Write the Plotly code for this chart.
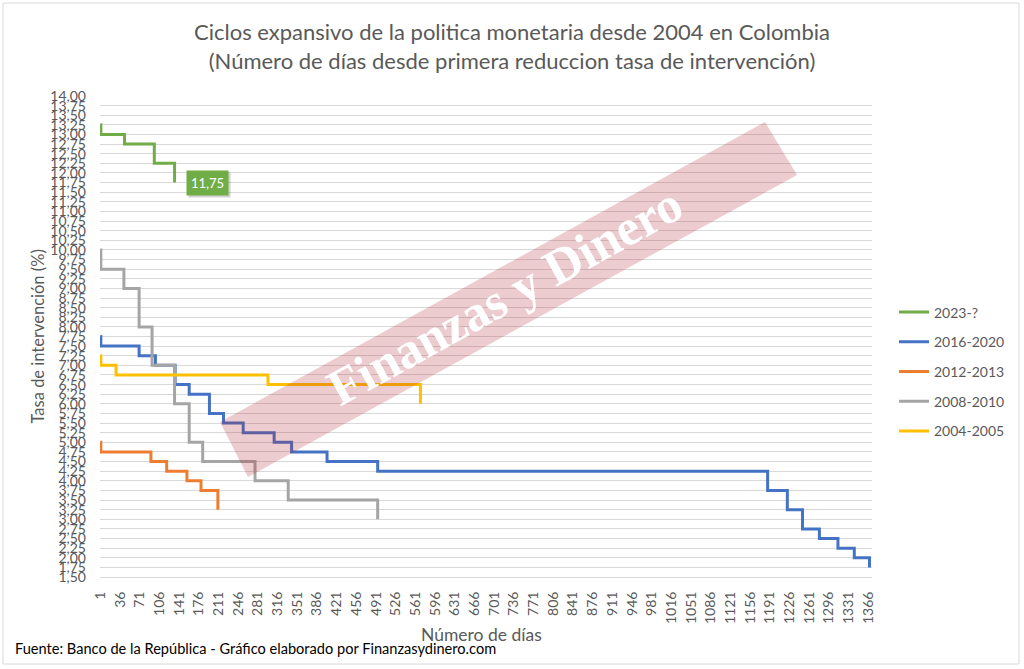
import plotly.graph_objects as go

# ---------------- data (day of cycle where rate changes, rate in %) ----------------
days_2023 = [1, 2, 44, 97, 133]
rates_2023 = [13.25, 13.00, 12.75, 12.25, 11.75]

days_2016 = [1, 2, 70, 99, 134, 159, 195, 220, 255, 310, 341, 404, 494,
             1187, 1222, 1249, 1279, 1312, 1341, 1368]
rates_2016 = [7.75, 7.50, 7.25, 7.00, 6.50, 6.25, 5.75, 5.50, 5.25, 5.00, 4.75, 4.50, 4.25,
              3.75, 3.25, 2.75, 2.50, 2.25, 2.00, 1.75]

days_2012 = [1, 2, 91, 119, 155, 180, 210]
rates_2012 = [5.00, 4.75, 4.50, 4.25, 4.00, 3.75, 3.25]

days_2008 = [1, 2, 43, 70, 93, 133, 159, 183, 276, 335, 494]
rates_2008 = [10.00, 9.50, 9.00, 8.00, 7.00, 6.00, 5.00, 4.50, 4.00, 3.50, 3.00]

days_2004 = [1, 2, 29, 299, 570]
rates_2004 = [7.25, 7.00, 6.75, 6.50, 6.00]

series_names = ["2023-?", "2016-2020", "2012-2013", "2008-2010", "2004-2005"]
n_categories = 1372
x_tick_values = list(range(1, 1367, 35))
y_tick_values = [1.5 + 0.25 * i for i in range(51)]
y_tick_labels = [f"{v:.2f}".replace(".", ",") for v in y_tick_values]

# ---------------- layout geometry ----------------
W, H = 1024, 669
L, R, T, B = 100, 152, 96, 92
PW = W - L - R
PH = H - T - B


def px(x):
    return (x - L) / PW


def py(y):
    return (H - B - y) / PH


FONT = "Lato, 'Open Sans', sans-serif"
GREY_TXT = "#595959"

colors = {
    "2023-?": "#70AD47",
    "2016-2020": "#4472C4",
    "2012-2013": "#ED7D31",
    "2008-2010": "#A5A5A5",
    "2004-2005": "#FFC000",
}
data = {
    "2023-?": (days_2023, rates_2023),
    "2016-2020": (days_2016, rates_2016),
    "2012-2013": (days_2012, rates_2012),
    "2008-2010": (days_2008, rates_2008),
    "2004-2005": (days_2004, rates_2004),
}

fig = go.Figure()
draw_order = ["2016-2020", "2012-2013", "2008-2010", "2004-2005", "2023-?"]
for name in draw_order:
    d, r = data[name]
    fig.add_trace(go.Scatter(
        x=d, y=r, mode="lines", name=name,
        line=dict(color=colors[name], width=3, shape="hv"),
        legendrank=series_names.index(name) + 1,
        legendgroup=name,
        hoverinfo="skip",
    ))

fig.update_layout(
    width=W, height=H,
    margin=dict(l=L, r=R, t=T, b=B, autoexpand=False),
    paper_bgcolor="white", plot_bgcolor="white",
    font=dict(family=FONT, color=GREY_TXT),
    showlegend=True,
    legend=dict(
        x=px(894), y=py(296.5), xanchor="left", yanchor="top",
        font=dict(size=14, color=GREY_TXT, family=FONT),
        tracegroupgap=8.5, bgcolor="rgba(0,0,0,0)",
        itemwidth=30,
    ),
    title=dict(
        text="Ciclos expansivo de la politica monetaria desde 2004 en Colombia<br>"
             "(Número de días desde primera reduccion tasa de intervención)",
        x=0.5, xref="container", xanchor="center",
        y=1 - 40 / H, yref="container", yanchor="middle",
        font=dict(size=22, color=GREY_TXT, family=FONT),
    ),
    xaxis=dict(
        range=[0.5, n_categories + 0.5],
        tickmode="array", tickvals=x_tick_values,
        ticktext=[str(v) for v in x_tick_values],
        tickangle=-90, ticks="", showgrid=False, zeroline=False,
        showline=True, linecolor="#D9D9D9", linewidth=1,
        tickfont=dict(size=14, color=GREY_TXT, family=FONT),
        ticklabelstandoff=8,
    ),
    yaxis=dict(
        range=[1.5, 14.0],
        tickmode="array", tickvals=y_tick_values, ticktext=y_tick_labels,
        ticks="", showgrid=True, gridcolor="#D9D9D9", gridwidth=1,
        zeroline=False, showline=False,
        tickfont=dict(size=14, color=GREY_TXT, family=FONT),
        ticklabelstandoff=13,
    ),
)

# watermark band
band = [(220, 422), (765, 122), (797, 175), (248, 477)]
path = "M " + " L ".join(f"{px(a):.5f},{py(b):.5f}" for a, b in band) + " Z"
fig.add_shape(type="path", path=path, xref="paper", yref="paper",
              fillcolor="rgba(180,40,60,0.24)", line=dict(width=0), layer="above")
# chart frame
fig.add_shape(type="rect", xref="paper", yref="paper",
              x0=px(3), x1=px(1019), y0=py(664), y1=py(3),
              line=dict(color="#D9D9D9", width=1), fillcolor="rgba(0,0,0,0)", layer="below")

fig.add_annotation(x=px(505), y=py(296), xref="paper", yref="paper",
                   xanchor="center", yanchor="middle",
                   text="<b>Finanzas y Dinero</b>", showarrow=False, textangle=-29,
                   font=dict(family="Liberation Serif, serif", size=51, color="white"))

# data label shadow + label
fig.add_annotation(x=days_2023[-1], y=rates_2023[-1], xref="x", yref="y",
                   text="11,75", showarrow=False, xanchor="left", yanchor="middle",
                   xshift=13, yshift=-2, bgcolor="rgba(0,0,0,0.18)", borderpad=4,
                   font=dict(size=13, color="rgba(0,0,0,0)", family=FONT))
fig.add_annotation(x=days_2023[-1], y=rates_2023[-1], xref="x", yref="y",
                   text=f"{rates_2023[-1]:.2f}".replace(".", ","), showarrow=False,
                   xanchor="left", yanchor="middle",
                   xshift=11, yshift=0, bgcolor="#70AD47", borderpad=4,
                   font=dict(size=13, color="white", family=FONT))

# axis titles and footer
fig.add_annotation(x=px(37), y=0.5, xref="paper", yref="paper",
                   xanchor="center", yanchor="middle",
                   text="Tasa de intervención (%)", showarrow=False, textangle=-90,
                   font=dict(size=16.5, color=GREY_TXT, family=FONT))
fig.add_annotation(x=px(481), y=py(634), xref="paper", yref="paper",
                   xanchor="center", yanchor="middle",
                   text="Número de días", showarrow=False,
                   font=dict(size=17.5, color=GREY_TXT, family=FONT))
fig.add_annotation(x=px(13), y=py(648), xref="paper", yref="paper",
                   xanchor="left", yanchor="middle",
                   text="Fuente: Banco de la República - Gráfico elaborado por Finanzasydinero.com",
                   showarrow=False, font=dict(size=14.6, color="black", family=FONT))

fig.write_html("out.html")
